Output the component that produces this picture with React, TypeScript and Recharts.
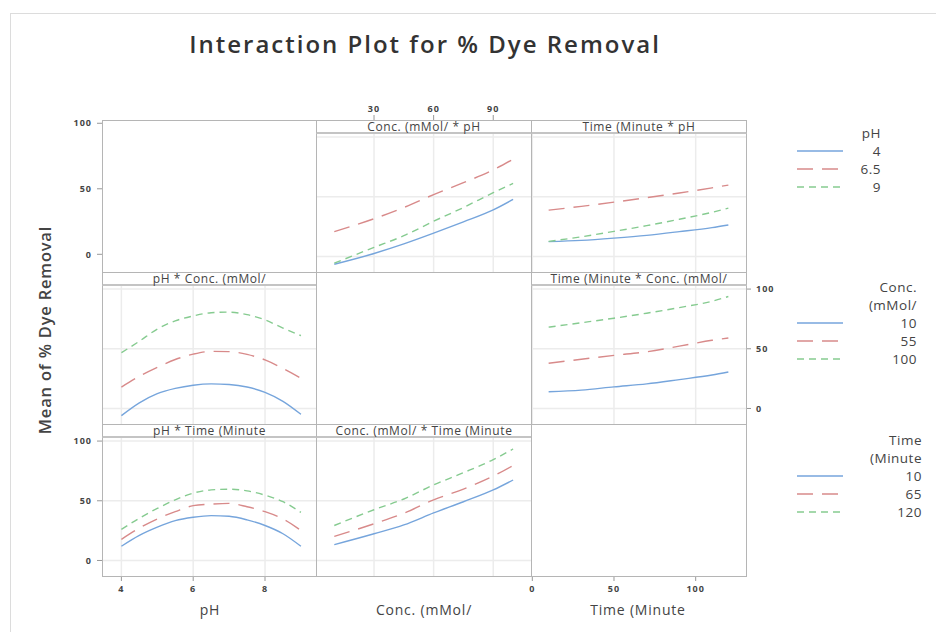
import React from 'react';
import { LineChart, Line, XAxis, YAxis, CartesianGrid } from 'recharts';

const FONT = '"Open Sans", "Noto Sans", sans-serif';

// x positions where values were read
const PH_X = [4, 4.5, 5, 5.5, 6, 6.5, 7, 7.5, 8, 8.5, 9];
const CONC_X = [10, 30, 45, 60, 75, 90, 100];
const TIME_X = [10, 30, 50, 70, 90, 110, 120];

// Conc. (mMol/ * pH
const CONC_PH4 = [-6.5, 2.5, 10.5, 19.5, 29, 39, 47.8];
const CONC_PH65 = [20.8, 31.6, 41, 51.8, 61.8, 72.5, 81.5];
const CONC_PH9 = [-5.6, 7.6, 17.4, 29.5, 41, 53.4, 61.2];

// Time (Minute * pH
const TIME_PH4 = [12.4, 13.5, 15.4, 17.7, 20.8, 24.2, 26.4];
const TIME_PH65 = [38.8, 42, 45.5, 49.2, 53.2, 57.5, 59.8];
const TIME_PH9 = [12.6, 16.5, 21, 25.8, 31.2, 37, 40.5];

// pH * Conc. (mMol/
const PH_C10 = [-6, 4.7, 12.4, 16.8, 19.5, 20.6, 20.1, 18, 13.5, 6, -4.9];
const PH_C55 = [17.9, 27, 34.5, 41, 45.5, 47.8, 47.6, 45.3, 40.7, 33.5, 25.3];
const PH_C100 = [46.7, 56.3, 66.5, 73.4, 77.5, 80.2, 80.7, 78.6, 74.2, 67.3, 61];

// Time (Minute * Conc. (mMol/
const TIME_C10 = [14, 15.4, 18.1, 20.6, 24.2, 28, 30.5];
const TIME_C55 = [37.9, 41.2, 44.5, 47.5, 52.2, 57.1, 59];
const TIME_C100 = [68.1, 71.8, 75.6, 79.8, 84.5, 89.8, 93.8];

// pH * Time (Minute
const PH_T10 = [11.9, 21, 27.9, 33.4, 36.2, 37.6, 37, 34, 29.3, 22.4, 11.9];
const PH_T65 = [17.7, 27.1, 34.8, 40.9, 45.9, 47.2, 47.8, 45, 40.9, 34.8, 25.1];
const PH_T120 = [26, 35.4, 43.6, 50.8, 56.4, 59.1, 59.7, 58.3, 54.7, 49.2, 40.3];

// Conc. (mMol/ * Time (Minute
const CONC_T10 = [13.3, 22.4, 29.8, 39.8, 49.2, 59.1, 67.4];
const CONC_T65 = [20.2, 30.7, 39.5, 50.8, 59.8, 70.7, 79.5];
const CONC_T120 = [29.3, 42.5, 51.5, 63.3, 73.5, 84.5, 93.4];

const PH_TICKS = [4, 6, 8];
const CONC_TICKS = [30, 60, 90];
const TIME_TICKS = [0, 50, 100];
const Y_TICKS = [0, 50, 100];

const PH_LEVELS = ['4', '6.5', '9'];
const CONC_LEVELS = ['10', '55', '100'];
const TIME_LEVELS = ['10', '65', '120'];

const COLORS = ['#76a5dc', '#d88a8a', '#86cb90'];
const DASHES = [undefined, '16 9', '7 5'];

const COLS = [{ x: 102, w: 214 }, { x: 316, w: 215 }, { x: 531, w: 215 }];
const ROWS = [{ y: 120, h: 152 }, { y: 272, h: 152 }, { y: 424, h: 152 }];
const X_DOMAINS: [number, number][] = [[3.46, 9.42], [0.8, 109], [-0.8, 130.8]];
const X_TICKS = [PH_TICKS, CONC_TICKS, TIME_TICKS];
const Y_STRIP: [number, number] = [-13, 114.3];
const Y_EMPTY: [number, number] = [-13.5, 102.5];

const rowsOf = (xs: number[], a: number[], b: number[], c: number[]) =>
  xs.map((x, i) => ({ x, a: a[i], b: b[i], c: c[i] }));

const tickStyle = { fontSize: 9, fill: '#444', fontWeight: 700, fontFamily: FONT, letterSpacing: 1 };

type PanelProps = {
  row: number;
  col: number;
  data: any[];
  strip?: string;
  lines?: boolean;
  left?: boolean;
  right?: boolean;
  top?: boolean;
  bottom?: boolean;
};

function Panel({ row, col, data, strip, lines, left, right, top, bottom }: PanelProps) {
  const AX = 40, AY = 24, PAD = 8;
  const { x, w } = COLS[col];
  const { y, h } = ROWS[row];
  const l = left ? AX : 0, r = right ? AX : 0, t = top ? AY : 0, b = bottom ? AY : 0;
  const yd = strip ? Y_STRIP : Y_EMPTY;
  return (
    <>
      <div style={{ position: 'absolute', left: x - l - PAD, top: y - t - PAD }}>
        <LineChart
          width={w + l + r + 2 * PAD}
          height={h + t + b + 2 * PAD}
          data={data}
          margin={{ top: PAD, right: PAD, bottom: PAD, left: PAD }}
        >
          {lines && (
            <CartesianGrid
              horizontalValues={Y_TICKS}
              verticalValues={X_TICKS[col]}
              stroke="#ececec"
              strokeWidth={1.5}
            />
          )}
          <XAxis
            dataKey="x"
            type="number"
            domain={X_DOMAINS[col]}
            ticks={X_TICKS[col]}
            interval={0}
            allowDataOverflow
            hide={!top && !bottom}
            orientation={top ? 'top' : 'bottom'}
            height={AY}
            axisLine={false}
            tickLine={{ stroke: '#999' }}
            tickSize={5}
            tickMargin={top ? 3 : 5}
            tick={tickStyle}
          />
          <YAxis
            type="number"
            domain={yd}
            ticks={Y_TICKS}
            interval={0}
            allowDataOverflow
            hide={!left && !right}
            orientation={right ? 'right' : 'left'}
            width={AX}
            axisLine={false}
            tickLine={{ stroke: '#999' }}
            tickSize={5}
            tickMargin={5}
            tick={tickStyle}
          />
          {lines &&
            ['a', 'b', 'c'].map((k, i) => (
              <Line
                key={k}
                type="monotone"
                dataKey={k}
                stroke={COLORS[i]}
                strokeWidth={1.4}
                strokeDasharray={DASHES[i]}
                dot={false}
                isAnimationActive={false}
              />
            ))}
        </LineChart>
      </div>
      <div
        style={{
          position: 'absolute', left: x, top: y, width: w + 1, height: h + 1,
          border: '1px solid #b5b5b5', boxSizing: 'border-box', pointerEvents: 'none',
        }}
      />
      {strip && (
        <div
          style={{
            position: 'absolute', left: x, top: y, width: w + 1, height: 14,
            borderTop: '1px solid #b5b5b5', borderLeft: '1px solid #b5b5b5', borderRight: '1px solid #b5b5b5',
            borderBottom: '2px solid #c4c4c4', boxSizing: 'border-box', background: '#fff',
            fontFamily: FONT, fontSize: 12, lineHeight: '11px', color: '#444', textAlign: 'center',
            letterSpacing: 0.6, whiteSpace: 'nowrap',
          }}
        >
          {strip}
        </div>
      )}
    </>
  );
}

function LegendBlock({ title, levels, right, y0 }: { title: string[]; levels: string[]; right: number; y0: number }) {
  const txt = { fontFamily: FONT, fontSize: 13.5, fill: '#444', letterSpacing: 0.5 } as const;
  const rowY = y0 + title.length * 18;
  return (
    <g>
      {title.map((s, i) => (
        <text key={s} x={right} y={y0 + i * 18} textAnchor="end" dominantBaseline="central" {...txt}>
          {s}
        </text>
      ))}
      {levels.map((lv, i) => (
        <g key={lv}>
          <line x1={797} x2={843} y1={rowY + i * 18} y2={rowY + i * 18} stroke={COLORS[i]} strokeWidth={1.4} strokeDasharray={DASHES[i]} />
          <text x={right} y={rowY + i * 18} textAnchor="end" dominantBaseline="central" {...txt}>
            {lv}
          </text>
        </g>
      ))}
    </g>
  );
}

export default function App() {
  const p12 = rowsOf(CONC_X, CONC_PH4, CONC_PH65, CONC_PH9);
  const p13 = rowsOf(TIME_X, TIME_PH4, TIME_PH65, TIME_PH9);
  const p21 = rowsOf(PH_X, PH_C10, PH_C55, PH_C100);
  const p23 = rowsOf(TIME_X, TIME_C10, TIME_C55, TIME_C100);
  const p31 = rowsOf(PH_X, PH_T10, PH_T65, PH_T120);
  const p32 = rowsOf(CONC_X, CONC_T10, CONC_T65, CONC_T120);

  const label = { fontFamily: FONT, fill: '#444' } as const;

  return (
    <div style={{ position: 'absolute', left: 0, top: 0, width: 936, height: 632, background: '#fff', overflow: 'hidden' }}>
      <div style={{ position: 'absolute', left: 10, top: 13, width: 940, height: 640, borderTop: '1px solid #dcdcdc', borderLeft: '1px solid #dcdcdc' }} />

      <Panel row={0} col={0} data={p21} left />
      <Panel row={0} col={1} data={p12} lines strip="Conc. (mMol/ * pH" top />
      <Panel row={0} col={2} data={p13} lines strip="Time (Minute * pH" />
      <Panel row={1} col={0} data={p21} lines strip="pH * Conc. (mMol/" />
      <Panel row={1} col={1} data={p12} />
      <Panel row={1} col={2} data={p23} lines strip="Time (Minute * Conc. (mMol/" right />
      <Panel row={2} col={0} data={p31} lines strip="pH * Time (Minute" left bottom />
      <Panel row={2} col={1} data={p32} lines strip="Conc. (mMol/ * Time (Minute" />
      <Panel row={2} col={2} data={p23} bottom />

      <svg width={936} height={632} style={{ position: 'absolute', left: 0, top: 0, pointerEvents: 'none' }}>
        <text x={425} y={43} textAnchor="middle" dominantBaseline="central" fontSize={24} fontWeight={600} letterSpacing={2} {...label} fill="#333">
          Interaction Plot for % Dye Removal
        </text>
        <text
          x={44}
          y={330}
          transform="rotate(-90 44 330)"
          textAnchor="middle"
          dominantBaseline="central"
          fontSize={16.5}
          fontWeight={600}
          letterSpacing={0.8}
          {...label}
        >
          Mean of % Dye Removal
        </text>
        <text x={210} y={609} textAnchor="middle" dominantBaseline="central" fontSize={14} letterSpacing={0.8} {...label}>
          pH
        </text>
        <text x={424} y={609} textAnchor="middle" dominantBaseline="central" fontSize={14} letterSpacing={0.8} {...label}>
          Conc. (mMol/
        </text>
        <text x={638} y={609} textAnchor="middle" dominantBaseline="central" fontSize={14} letterSpacing={0.8} {...label}>
          Time (Minute
        </text>
        <LegendBlock title={['pH']} levels={PH_LEVELS} right={881} y0={133} />
        <LegendBlock title={['Conc.', '(mMol/']} levels={CONC_LEVELS} right={917} y0={287} />
        <LegendBlock title={['Time', '(Minute']} levels={TIME_LEVELS} right={922} y0={440} />
      </svg>
    </div>
  );
}
